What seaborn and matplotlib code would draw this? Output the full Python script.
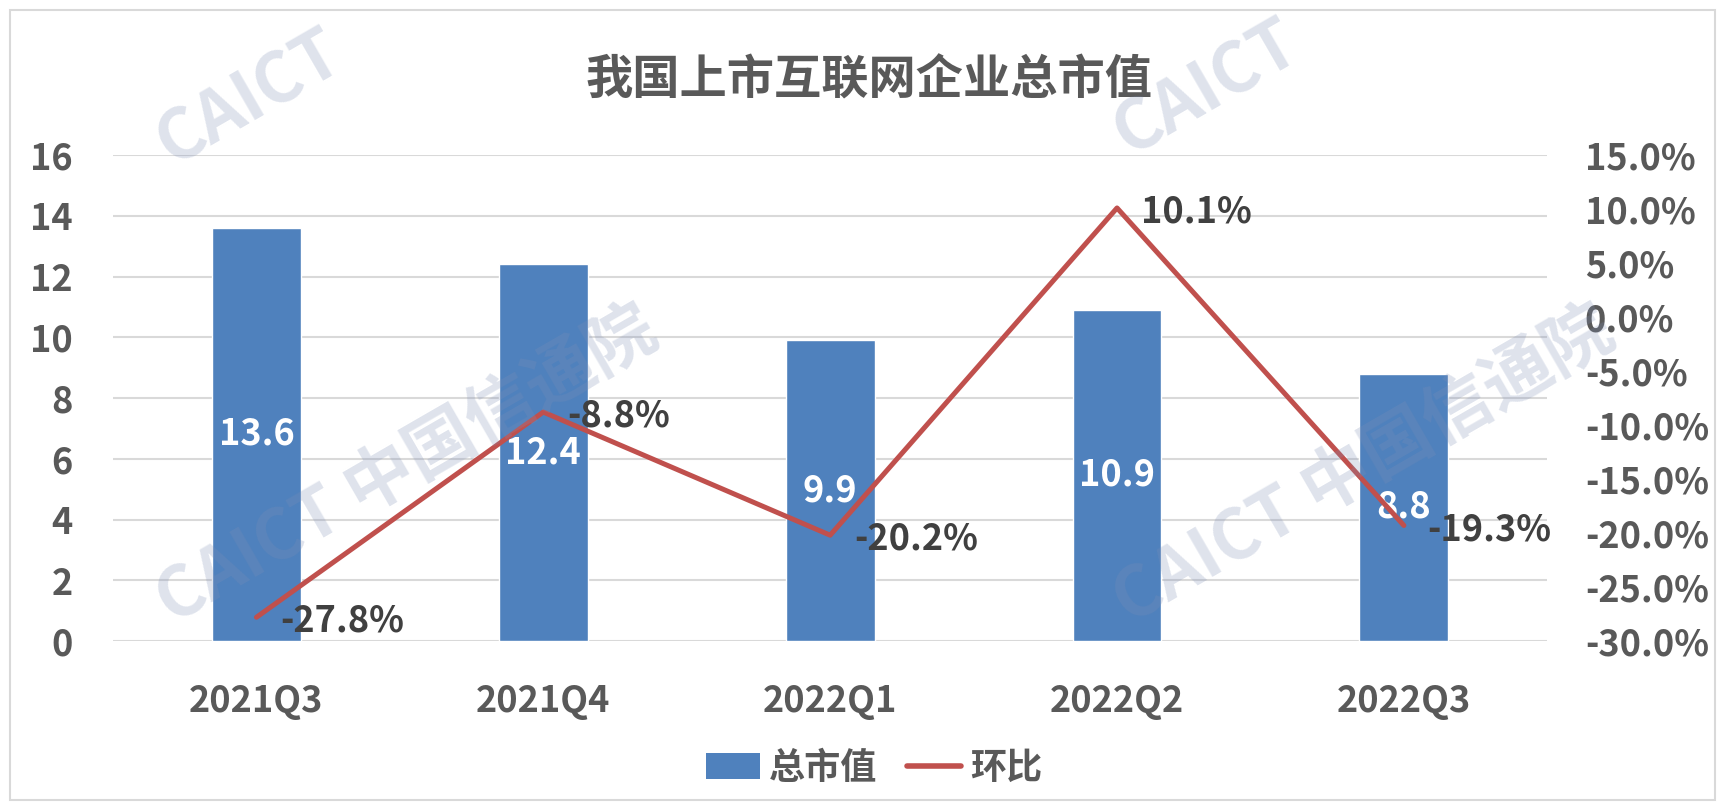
import numpy as np
import pandas as pd
import matplotlib.pyplot as plt
import seaborn as sns
from matplotlib.patches import Rectangle, Patch
from matplotlib.lines import Line2D

# 数据
quarters = ['2021Q3', '2021Q4', '2022Q1', '2022Q2', '2022Q3']
market_cap = [13.6, 12.4, 9.9, 10.9, 8.8]      # 总市值（万亿元）
qoq_growth = [-27.8, -8.8, -20.2, 10.1, -19.3]  # 环比（%）

BAR_COLOR = '#4f81bd'
LINE_COLOR = '#c0504d'
TEXT_COLOR = '#595959'
GRID_COLOR = '#d9d9d9'

sns.set_theme(style='white')
plt.rcParams['font.family'] = ['Noto Sans CJK SC', 'DejaVu Sans']
plt.rcParams['font.weight'] = 'bold'

fig = plt.figure(figsize=(17.25, 8.1), dpi=100)
ax = fig.add_axes([0.0655, 0.2086, 0.8315, 0.6])

df = pd.DataFrame({'quarter': quarters, 'cap': market_cap})
sns.barplot(data=df, x='quarter', y='cap', color=BAR_COLOR, saturation=1,
            width=0.31, ax=ax)
ax.bar_label(ax.containers[0], fmt='%.1f', label_type='center',
             color='white', fontsize=26, fontweight='bold')

ax.set_xlim(-0.5, len(quarters) - 0.5)
ax.set_ylim(0, 16)
ax.set_yticks(range(0, 17, 2))
ax.set_xlabel('')
ax.set_ylabel('')
ax.grid(axis='y', color=GRID_COLOR, lw=1.5)
ax.grid(axis='x', visible=False)
ax.set_axisbelow(True)
ax.tick_params(axis='y', length=0, pad=29, labelsize=26, labelcolor=TEXT_COLOR)
ax.tick_params(axis='x', length=0, pad=30, labelsize=26, labelcolor=TEXT_COLOR)

# 环比折线（次坐标轴）
ax2 = ax.twinx()
sns.lineplot(x=np.arange(len(quarters)), y=qoq_growth, color=LINE_COLOR,
             lw=3.6, ax=ax2)
for i, v in enumerate(qoq_growth):
    ax2.annotate(f'{v:.1f}%', (i, v), xytext=(17, -3), textcoords='offset points',
                 ha='left', va='center', fontsize=26, fontweight='bold',
                 color='#404040')
ax2.set_ylim(-30, 15)
ax2.set_yticks(np.arange(-30, 16, 5))
ax2.set_yticklabels([f'{t:.1f}%' for t in np.arange(-30, 16, 5)])
ax2.tick_params(axis='y', length=0, pad=27, labelsize=26, labelcolor=TEXT_COLOR)
ax2.grid(False)

for a in (ax, ax2):
    for s in a.spines.values():
        s.set_visible(False)

# 标题
fig.text(0.504, 0.901, '我国上市互联网企业总市值', ha='center', va='center',
         fontsize=34, fontweight='bold', color=TEXT_COLOR)

# 图例
handles = [Patch(facecolor=BAR_COLOR, edgecolor='none'),
           Line2D([0], [0], color=LINE_COLOR, lw=4, solid_capstyle='round')]
fig.legend(handles, ['总市值', '环比'], loc='center', ncol=2,
           bbox_to_anchor=(874 / 1725, 1 - 768 / 810), frameon=False,
           fontsize=26, handlelength=1.5, handletextpad=0.25,
           columnspacing=0.8, labelcolor=TEXT_COLOR)

# 水印
watermarks = [('CAICT', 249, 98), ('CAICT 中国信通院', 407, 467),
              ('CAICT 中国信通院', 1364, 467), ('CAICT', 1206, 88)]
for txt, cx, cy in watermarks:
    fig.text(cx / 1725, 1 - cy / 810, txt, rotation=30,
             rotation_mode='anchor', ha='center', va='center', fontsize=50,
             fontweight='bold', color='#7f8fb5', alpha=0.25, zorder=10)

# 图表外框
fig.patches.append(Rectangle((10 / 1725, 10 / 810), 1705 / 1725, 790 / 810,
                             transform=fig.transFigure, fill=False,
                             edgecolor=GRID_COLOR, lw=1.5))

fig.savefig('out.png', dpi=100)
